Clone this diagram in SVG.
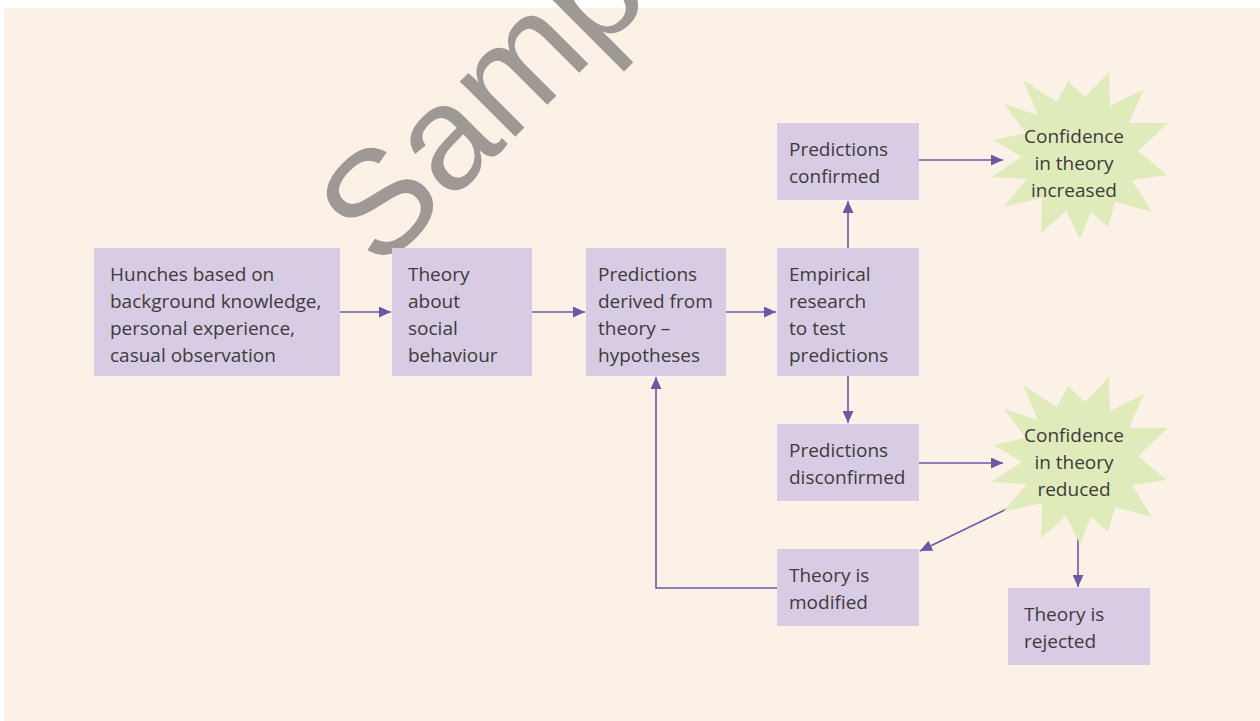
<svg xmlns="http://www.w3.org/2000/svg" xmlns:xlink="http://www.w3.org/1999/xlink" width="1260" height="721" viewBox="0 0 1260 721">
<style>
.box{fill:#D8CCE5;}
.t{font-family:"Open Sans","Noto Sans","Liberation Sans",sans-serif;font-size:19px;fill:#3E3B3B;}
.c{text-anchor:middle;}
.burst{fill:#E0EBBB;}
.ln{fill:none;stroke:#6A58A6;stroke-width:1.6;}
.wm{font-family:"Liberation Sans",Arial,sans-serif;font-size:148px;fill:#9E9995;}
</style>
<defs>
<marker id="ah" markerUnits="userSpaceOnUse" markerWidth="13" markerHeight="11" refX="12" refY="5.5" orient="auto">
<path d="M0,0 L12,5.5 L0,11 Z" fill="#6A58A6"/>
</marker>
<polygon id="burst" points="-76,-51 -42,-40 -57,-75 -23,-53 -12,-74 5,-58 29,-83 30,-49 64,-66 49,-32 88,-32 58,-4 87,20 52,25 72,57 35,47 28,72 11,57 0,84 -14,56 -39,78 -38,43 -77,52 -53,24 -89,22 -58,2 -87,-15 -54,-22"/>
</defs>
<rect x="0" y="0" width="1260" height="721" fill="#FFFFFF"/>
<rect x="4" y="8" width="1256" height="713" fill="#FCF1E6"/>

<text class="wm" x="380" y="272" transform="rotate(-45 380 272)">Sample</text>

<g id="connectors">
<line class="ln" x1="340" y1="312" x2="391" y2="312" marker-end="url(#ah)"/>
<line class="ln" x1="532" y1="312" x2="585" y2="312" marker-end="url(#ah)"/>
<line class="ln" x1="726" y1="312" x2="776" y2="312" marker-end="url(#ah)"/>
<line class="ln" x1="848" y1="248" x2="848" y2="201" marker-end="url(#ah)"/>
<line class="ln" x1="848" y1="376" x2="848" y2="423" marker-end="url(#ah)"/>
<line class="ln" x1="919" y1="160" x2="1003" y2="160" marker-end="url(#ah)"/>
<line class="ln" x1="919" y1="463" x2="1003" y2="463" marker-end="url(#ah)"/>
<line class="ln" x1="1013" y1="506" x2="920" y2="551" marker-end="url(#ah)"/>
<line class="ln" x1="1078" y1="522" x2="1078" y2="587" marker-end="url(#ah)"/>
<polyline class="ln" points="777,588 656,588 656,377" marker-end="url(#ah)"/>
</g>

<g id="hunches">
<rect class="box" x="94" y="248" width="246" height="128"/>
<text class="t" x="110" y="281">Hunches based on</text>
<text class="t" x="110" y="308">background knowledge,</text>
<text class="t" x="110" y="335">personal experience,</text>
<text class="t" x="110" y="362">casual observation</text>
</g>
<g id="theory">
<rect class="box" x="392" y="248" width="140" height="128"/>
<text class="t" x="408" y="281">Theory</text>
<text class="t" x="408" y="308">about</text>
<text class="t" x="408" y="335">social</text>
<text class="t" x="408" y="362">behaviour</text>
</g>
<g id="predictions">
<rect class="box" x="586" y="248" width="140" height="128"/>
<text class="t" x="598" y="281">Predictions</text>
<text class="t" x="598" y="308">derived from</text>
<text class="t" x="598" y="335">theory –</text>
<text class="t" x="598" y="362">hypotheses</text>
</g>
<g id="empirical">
<rect class="box" x="777" y="248" width="142" height="128"/>
<text class="t" x="789" y="281">Empirical</text>
<text class="t" x="789" y="308">research</text>
<text class="t" x="789" y="335">to test</text>
<text class="t" x="789" y="362">predictions</text>
</g>
<g id="confirmed">
<rect class="box" x="777" y="123" width="142" height="77"/>
<text class="t" x="789" y="156">Predictions</text>
<text class="t" x="789" y="183">confirmed</text>
</g>
<g id="disconfirmed">
<rect class="box" x="777" y="424" width="142" height="77"/>
<text class="t" x="789" y="457">Predictions</text>
<text class="t" x="789" y="484">disconfirmed</text>
</g>
<g id="modified">
<rect class="box" x="777" y="549" width="142" height="77"/>
<text class="t" x="789" y="582">Theory is</text>
<text class="t" x="789" y="609">modified</text>
</g>
<g id="rejected">
<rect class="box" x="1008" y="588" width="142" height="77"/>
<text class="t" x="1024" y="621">Theory is</text>
<text class="t" x="1024" y="648">rejected</text>
</g>
<g id="increased">
<use xlink:href="#burst" class="burst" transform="translate(1080,155)"/>
<text class="t c" x="1074" y="143">Confidence</text>
<text class="t c" x="1074" y="170">in theory</text>
<text class="t c" x="1074" y="197">increased</text>
</g>
<g id="reduced">
<use xlink:href="#burst" class="burst" transform="translate(1080,460)"/>
<text class="t c" x="1074" y="442">Confidence</text>
<text class="t c" x="1074" y="469">in theory</text>
<text class="t c" x="1074" y="496">reduced</text>
</g>
</svg>
